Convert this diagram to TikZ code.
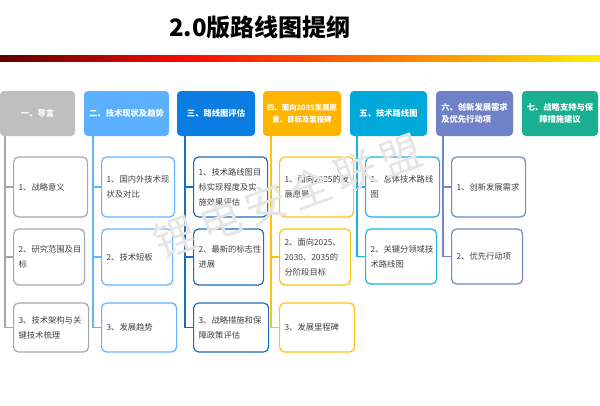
\documentclass[tikz,border=0pt]{standalone}
\usepackage{fontspec}
\setmainfont{Noto Sans CJK SC}
\usetikzlibrary{positioning}

\definecolor{gA}{HTML}{BFBFBF}\definecolor{gB}{HTML}{A6A6A6}
\definecolor{lbA}{HTML}{5BB1FF}\definecolor{lbB}{HTML}{63B3FF}
\definecolor{bA}{HTML}{0A7CE2}\definecolor{bB}{HTML}{1B6DBF}
\definecolor{oA}{HTML}{FFB400}\definecolor{oB}{HTML}{FFC20E}
\definecolor{cA}{HTML}{00A9DA}\definecolor{cB}{HTML}{1EB2E2}
\definecolor{sA}{HTML}{6F82C8}\definecolor{sB}{HTML}{7585C8}
\definecolor{tA}{HTML}{1BAF91}
\definecolor{barA}{HTML}{5C0000}\definecolor{barB}{HTML}{FF0A00}
\definecolor{barC}{HTML}{FF9400}\definecolor{barD}{HTML}{FFEE00}

\begin{document}
\begin{tikzpicture}[x=1pt, y=-1pt,
  head/.style={rounded corners=4pt, text=white, minimum height=45pt, inner sep=1pt},
  sub/.style={draw, line width=1.2pt, rounded corners=5pt, fill=white, text=black!75,
    align=left, inner xsep=5pt, inner ysep=0pt, anchor=west,
    font=\fontsize{8.3}{15}\selectfont},
  link/.style={line width=1.1pt}]
\useasboundingbox (0,0) rectangle (600,405);

% title and bar
\node[font=\fontsize{24}{28}\selectfont\bfseries] (title) at (260,27) {2.0版路线图提纲};
\shade[left color=barA, right color=barB] (0,55) rectangle (190,61);
\shade[left color=barB, middle color=barC, right color=barD] (190,55) rectangle (600,61);

% headers
\foreach \k/\x/\w/\c/\al/\fs/\t in {1/37.5/75/gA/center/8.3/{一、导言},
    2/126.5/85/lbA/center/8.3/{二、技术现状及趋势},
    3/216/78/bA/center/8.3/{三、路线图评估},
    4/302/78/oA/center/7.4/{四、面向2035发展愿\\景、目标及里程碑},
    5/388.5/77/cA/center/8.3/{五、技术路线图},
    6/474.5/77/sA/left/8.3/{六、创新发展需求\\及优先行动项},
    7/560/76/tA/center/8.3/{七、战略支持与保\\障措施建议}}
  \node[head, fill=\c, minimum width=\w pt, align=\al,
    font=\fontsize{\fs}{12.5}\selectfont\bfseries] (h\k) at (\x,113.5) {\t};

% sub items
\foreach \k/\r/\l/\y/\tw/\h/\c/\t in {
    1/1/13/187/64/60/gB/{1、战略意义},
    1/2/13/257/61/56/gB/{2、研究范围及目\\标},
    1/3/13/327.5/65/49/gB/{3、技术架构与关\\键技术梳理},
    2/1/101/187/63/60/lbB/{1、国内外技术现\\状及对比},
    2/2/101/257/61/56/lbB/{2、技术短板},
    2/3/101/327.5/65/49/lbB/{3、发展趋势},
    3/1/193/187/64/60/bB/{1、技术路线图目\\标实现程度及实\\施效果评估},
    3/2/193/257/60/56/bB/{2、最新的标志性\\进展},
    3/3/193/327.5/65/49/bB/{3、战略措施和保\\障政策评估},
    4/1/279/187/64/60/oB/{1、面向2035的发\\展愿景},
    4/2/279/257/61/56/oB/{2、面向2025、\\2030、2035的\\分阶段目标},
    4/3/279/327.5/65/49/oB/{3、发展里程碑},
    5/1/365/187/64/60/cB/{1、总体技术路线\\图},
    5/2/365/256.5/61/55/cB/{2、关键分领域技\\术路线图},
    6/1/451/187/64/60/sB/{1、创新发展需求},
    6/2/451/256.5/61/55/sB/{2、优先行动项}}
{
  \node[sub, draw=\c, text width=\tw pt, minimum height=\h pt] (c\k\r) at (\l,\y) {\t};
  \draw[link, draw=\c] ([xshift=-8pt]h\k.south -| c\k\r.west) |- (c\k\r.west);
}

% watermark
\node[rotate=20, text=black!10, font=\fontsize{42}{42}\selectfont] (mark) at (288,196)
  {锂\kern6pt 电\kern6pt 安\kern6pt 全\kern6pt 联\kern6pt 盟};
\end{tikzpicture}
\end{document}
